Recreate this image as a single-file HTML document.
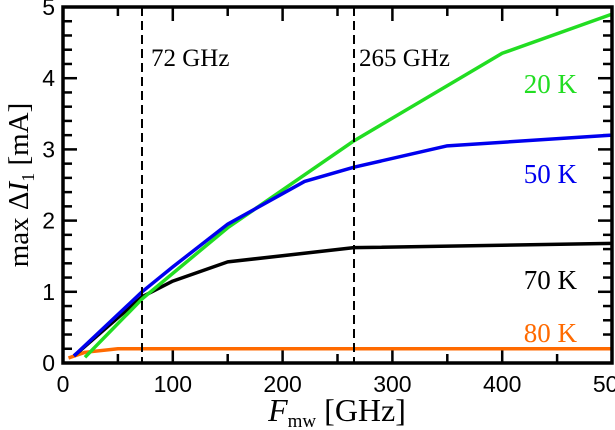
<!DOCTYPE html>
<html><head><meta charset="utf-8"><style>
html,body{margin:0;padding:0;background:#fff;}
svg{display:block;}
.tk{font-family:"Liberation Sans",sans-serif;font-size:23px;}
.sf{font-family:"Liberation Serif",serif;}
</style></head><body>
<svg id="c" width="615" height="430">
<g id="tickg" fill="#000"></g>
<g id="ticks"></g>
<g id="series"></g>
<line x1="142" y1="7" x2="142" y2="363" stroke="#000" stroke-width="2" stroke-dasharray="9,5"/>
<line x1="354" y1="7" x2="354" y2="363" stroke="#000" stroke-width="2" stroke-dasharray="9,5"/>
<text x="151" y="66" class="sf" font-size="25">72 GHz</text>
<text x="359" y="66" class="sf" font-size="25">265 GHz</text>
<text x="577" y="93" class="sf" font-size="27" fill="#22dd22" text-anchor="end">20 K</text>
<text x="577" y="183" class="sf" font-size="27" fill="#0000ee" text-anchor="end">50 K</text>
<text x="577" y="289" class="sf" font-size="27" fill="#000" text-anchor="end">70 K</text>
<text x="577" y="342" class="sf" font-size="27" fill="#ff6a00" text-anchor="end">80 K</text>
<rect x="63" y="7" width="549" height="356" fill="none" stroke="#000" stroke-width="3.5"/>
<text x="337" y="421" class="sf" font-size="32" text-anchor="middle"><tspan font-style="italic">F</tspan><tspan font-size="19" dy="6">mw</tspan><tspan dy="-6"> [GHz]</tspan></text>
<text transform="translate(28,185) rotate(-90)" class="sf" font-size="29" text-anchor="middle">max Δ<tspan font-style="italic">I</tspan><tspan font-size="18" dy="6">1</tspan><tspan dy="-6"> [mA]</tspan></text>
</svg>
<script>
const xTicks=[0,100,200,300,400,500];
const yTicks=[0,1,2,3,4,5];
const f20=[20,72,150,265,400,500];
const v20=[0.08,0.9,1.9,3.12,4.35,4.9];
const f50=[10,72,100,150,220,265,350,500];
const v50=[0.1,1.0,1.35,1.95,2.55,2.75,3.05,3.2];
const f70=[10,72,100,150,265,500];
const v70=[0.1,0.93,1.15,1.42,1.62,1.68];
const f80=[5,20,50,100,500];
const v80=[0.07,0.15,0.2,0.2,0.2];
const X0=63,X1=612,Y0=363,Y1=7;
const sx=v=>X0+(v/500)*(X1-X0);
const sy=v=>Y0-(v/5)*(Y0-Y1);
const NS="http://www.w3.org/2000/svg";
const kg=document.getElementById('tickg');
function rc(x,y,w,h){const r=document.createElementNS(NS,'rect');r.setAttribute('x',x);r.setAttribute('y',y);r.setAttribute('width',w);r.setAttribute('height',h);r.setAttribute('fill','#000');


kg.appendChild(r);}
for(let k=0;k<=10;k++){const x=sx(k*50),L=k%2===0?14:9;rc(x-1.25,Y0-L,2.5,L);rc(x-1.25,Y1,2.5,L);}
for(let i=0;i<=25;i++){const y=sy(i*0.2),L=i%5===0?14:9;rc(X0,y-1.25,L,2.5);rc(X1-L,y-1.25,L,2.5);}
const tg=document.getElementById('ticks');
xTicks.forEach(v=>{const t=document.createElementNS(NS,'text');t.setAttribute('x',sx(v));t.setAttribute('y',392);t.setAttribute('text-anchor','middle');t.setAttribute('class','tk');t.textContent=v;


tg.appendChild(t);});
yTicks.forEach(v=>{const t=document.createElementNS(NS,'text');t.setAttribute('x',55);t.setAttribute('y',sy(v)+8);t.setAttribute('text-anchor','end');t.setAttribute('class','tk');t.textContent=v;


tg.appendChild(t);});
const sg=document.getElementById('series');
function line(fs,vs,col,name){const p=document.createElementNS(NS,'polyline');p.setAttribute('points',fs.map((f,i)=>sx(f)+','+sy(vs[i])).join(' '));p.setAttribute('fill','none');p.setAttribute('stroke',col);p.setAttribute('stroke-width','3.5');p.setAttribute('stroke-linejoin','round');


sg.appendChild(p);}
line(f80,v80,'#ff6a00','series-80k');
line(f70,v70,'#000','series-70k');
line(f20,v20,'#22dd22','series-20k');
line(f50,v50,'#0000ee','series-50k');
</script>
</body></html>
